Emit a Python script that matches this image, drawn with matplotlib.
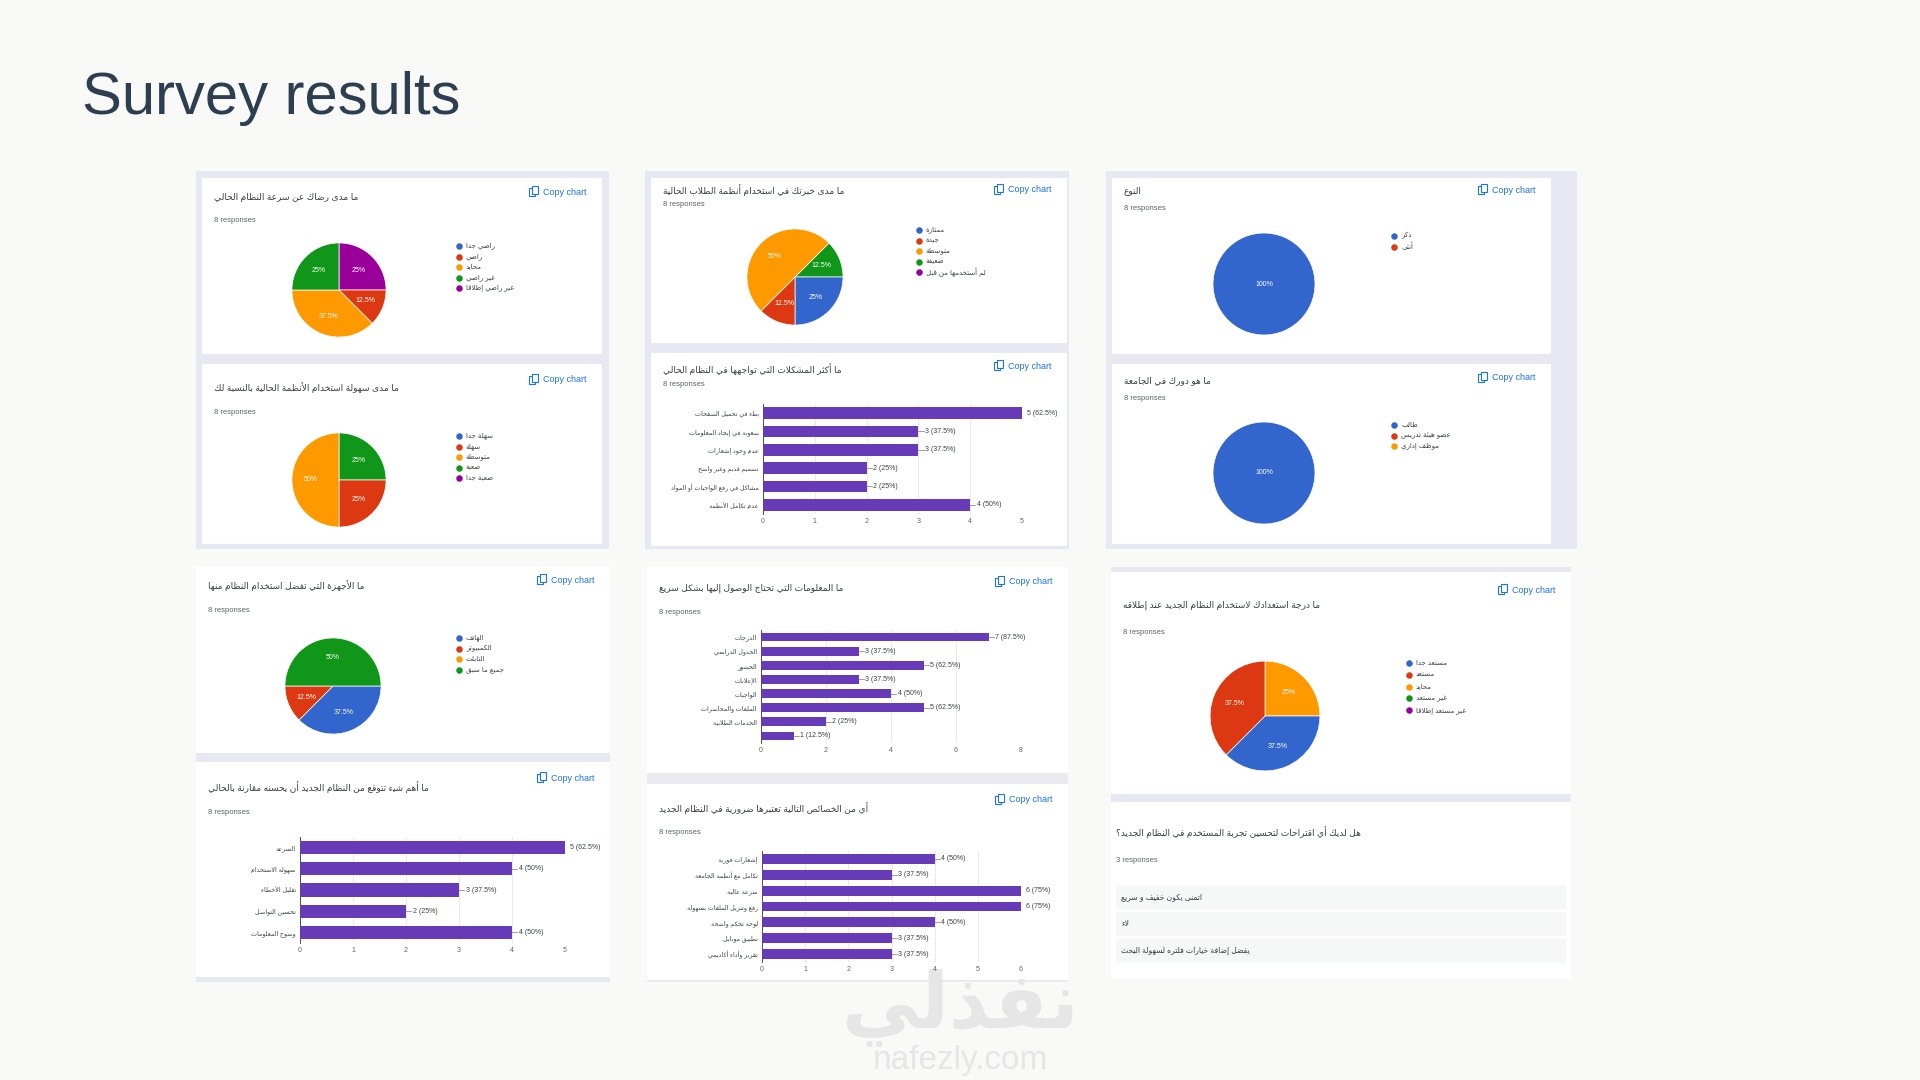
import matplotlib.pyplot as plt
from matplotlib.patches import Rectangle

plt.rcParams["font.family"] = ["Liberation Sans", "DejaVu Sans"]

# ----------------------------
# Data
# ----------------------------

PIE_COLORS = ["#3366cc", "#dc3912", "#ff9900", "#109618", "#990099"]
BAR_COLOR = "#673ab7"

speed_title = "ما مدى رضاك عن سرعة النظام الحالي"
speed_labels = ["راضي جداً", "راضي", "محايد", "غير راضي", "غير راضي إطلاقاً"]
speed_counts = [0, 1, 3, 2, 2]
speed_order = [4, 1, 2, 3]

ease_title = "ما مدى سهولة استخدام الأنظمة الحالية بالنسبة لك"
ease_labels = ["سهلة جداً", "سهلة", "متوسطة", "صعبة", "صعبة جداً"]
ease_counts = [0, 2, 4, 2, 0]
ease_order = [3, 1, 2]

exp_title = "ما مدى خبرتك في استخدام أنظمة الطلاب الحالية"
exp_labels = ["ممتازة", "جيدة", "متوسطة", "ضعيفة", "لم أستخدمها من قبل"]
exp_counts = [2, 1, 4, 1, 0]
exp_order = [3, 0, 1, 2]

gender_title = "النوع"
gender_labels = ["ذكر", "أنثى"]
gender_counts = [8, 0]

role_title = "ما هو دورك في الجامعة"
role_labels = ["طالب", "عضو هيئة تدريس", "موظف إداري"]
role_counts = [8, 0, 0]

device_title = "ما الأجهزة التي تفضل استخدام النظام منها"
device_labels = ["الهاتف", "الكمبيوتر", "التابلت", "جميع ما سبق"]
device_counts = [3, 1, 0, 4]
device_order = [0, 1, 3]

ready_title = "ما درجة استعدادك لاستخدام النظام الجديد عند إطلاقه"
ready_labels = ["مستعد جداً", "مستعد", "محايد", "غير مستعد", "غير مستعد إطلاقاً"]
ready_counts = [3, 3, 2, 0, 0]
ready_order = [2, 0, 1]

prob_title = "ما أكثر المشكلات التي تواجهها في النظام الحالي"
prob_cats = ["بطء في تحميل الصفحات", "صعوبة في إيجاد المعلومات", "عدم وجود إشعارات",
             "تصميم قديم وغير واضح", "مشاكل في رفع الواجبات أو المواد", "عدم تكامل الأنظمة"]
prob_counts = [5, 3, 3, 2, 2, 4]
prob_ticks = [0, 1, 2, 3, 4, 5]

info_title = "ما المعلومات التي تحتاج الوصول إليها بشكل سريع"
info_cats = ["الدرجات", "الجدول الدراسي", "الحضور", "الإعلانات", "الواجبات",
             "الملفات والمحاضرات", "الخدمات الطلابية", ""]
info_counts = [7, 3, 5, 3, 4, 5, 2, 1]
info_ticks = [0, 2, 4, 6, 8]

expect_title = "ما أهم شيء تتوقع من النظام الجديد أن يحسنه مقارنة بالحالي"
expect_cats = ["السرعة", "سهولة الاستخدام", "تقليل الأخطاء", "تحسين التواصل", "وضوح المعلومات"]
expect_counts = [5, 4, 3, 2, 4]
expect_ticks = [0, 1, 2, 3, 4, 5]

feat_title = "أي من الخصائص التالية تعتبرها ضرورية في النظام الجديد"
feat_cats = ["إشعارات فورية", "تكامل مع أنظمة الجامعة", "سرعة عالية", "رفع وتنزيل الملفات بسهولة",
             "لوحة تحكم واضحة", "تطبيق موبايل", "تقرير وأداء أكاديمي"]
feat_counts = [4, 3, 6, 6, 4, 3, 3]
feat_ticks = [0, 1, 2, 3, 4, 5, 6]

sugg_title = "هل لديك أي اقتراحات لتحسين تجربة المستخدم في النظام الجديد؟"
sugg_answers = ["اتمنى يكون خفيف و سريع", "لاء", "يفضل إضافة خيارات فلتره لسهولة البحث"]

N_RESP = 8

# ----------------------------
# Minimal Arabic shaping (presentation forms + visual order)
# ----------------------------

FORMS = {
    0x621: (0xFE80, 1), 0x622: (0xFE81, 2), 0x623: (0xFE83, 2), 0x624: (0xFE85, 2),
    0x625: (0xFE87, 2), 0x626: (0xFE89, 4), 0x627: (0xFE8D, 2), 0x628: (0xFE8F, 4),
    0x629: (0xFE93, 2), 0x62A: (0xFE95, 4), 0x62B: (0xFE99, 4), 0x62C: (0xFE9D, 4),
    0x62D: (0xFEA1, 4), 0x62E: (0xFEA5, 4), 0x62F: (0xFEA9, 2), 0x630: (0xFEAB, 2),
    0x631: (0xFEAD, 2), 0x632: (0xFEAF, 2), 0x633: (0xFEB1, 4), 0x634: (0xFEB5, 4),
    0x635: (0xFEB9, 4), 0x636: (0xFEBD, 4), 0x637: (0xFEC1, 4), 0x638: (0xFEC5, 4),
    0x639: (0xFEC9, 4), 0x63A: (0xFECD, 4), 0x641: (0xFED1, 4), 0x642: (0xFED5, 4),
    0x643: (0xFED9, 4), 0x644: (0xFEDD, 4), 0x645: (0xFEE1, 4), 0x646: (0xFEE5, 4),
    0x647: (0xFEE9, 4), 0x648: (0xFEED, 2), 0x649: (0xFEEF, 2), 0x64A: (0xFEF1, 4),
}
LAM_ALEF = {0x622: 0xFEF5, 0x623: 0xFEF7, 0x625: 0xFEF9, 0x627: 0xFEFB}


def ar(s):
    chars = [c for c in s if not (0x64B <= ord(c) <= 0x652)]
    merged = []
    i = 0
    while i < len(chars):
        c = chars[i]
        if ord(c) == 0x644 and i + 1 < len(chars) and ord(chars[i + 1]) in LAM_ALEF:
            merged.append(("LA", ord(chars[i + 1])))
            i += 2
        else:
            merged.append(("C", c))
            i += 1

    def dual(item):
        return item is not None and item[0] == "C" and ord(item[1]) in FORMS and FORMS[ord(item[1])][1] == 4

    def letter(item):
        return item is not None and (item[0] == "LA" or ord(item[1]) in FORMS)

    out = []
    for k, item in enumerate(merged):
        prev = merged[k - 1] if k > 0 else None
        nxt = merged[k + 1] if k + 1 < len(merged) else None
        jp = dual(prev)
        if item[0] == "LA":
            out.append(chr(LAM_ALEF[item[1]] + (1 if jp else 0)))
            continue
        c = item[1]
        if ord(c) not in FORMS:
            out.append(c)
            continue
        base, n = FORMS[ord(c)]
        jn = n == 4 and letter(nxt)
        if n == 1:
            off = 0
        elif jp and jn:
            off = 3
        elif jn:
            off = 2
        elif jp:
            off = 1
        else:
            off = 0
        out.append(chr(base + off))
    return "".join(out[::-1])


# ----------------------------
# Figure helpers
# ----------------------------

W, H = 1920, 1080
fig = plt.figure(figsize=(19.2, 10.8), dpi=100)
fig.patch.set_facecolor("#f9f9f8")
bg = fig.add_axes([0, 0, 1, 1])
bg.set_xlim(0, W)
bg.set_ylim(H, 0)
bg.axis("off")

TXT = "#3c4043"
GRAY = "#5f6368"
BLUE = "#1a73e8"
LAV = "#e8e8f3"


def px_axes(x0, y0, x1, y1):
    return fig.add_axes([x0 / W, 1 - y1 / H, (x1 - x0) / W, (y1 - y0) / H])


def rect(x0, y0, x1, y1, color):
    bg.add_patch(Rectangle((x0, y0), x1 - x0, y1 - y0, color=color, lw=0))


def card(x0, y0, x1, y1, title, resp=N_RESP, title_dy=20, resp_dy=42, copy=True, copy_dx=55):
    rect(x0, y0, x1, y1, "white")
    bg.text(x0 + 12, y0 + title_dy, ar(title), fontsize=6.5, color=TXT, va="center", ha="left")
    bg.text(x0 + 12, y0 + resp_dy, f"{resp} responses", fontsize=5.5, color=GRAY, va="center")
    if copy:
        cx = x1 - copy_dx
        cy = y0 + 12 + (title_dy - 12) * 0.3
        bg.add_patch(Rectangle((cx - 18, cy - 4), 6, 8, fill=False, ec=BLUE, lw=0.8))
        bg.add_patch(Rectangle((cx - 15, cy - 6), 6, 8, fc="white", ec=BLUE, lw=0.8))
        bg.text(cx - 4, cy, "Copy chart", fontsize=6.5, color=BLUE, va="center")


def legend(x, y, labels, step=10.5):
    for i, lab in enumerate(labels):
        bg.scatter([x], [y + i * step], s=22, color=PIE_COLORS[i], lw=0, zorder=3)
        bg.text(x + 7, y + i * step, ar(lab), fontsize=5, color=TXT, va="center", ha="left")


def pie(cx, cy, r, counts, order, start):
    ax = px_axes(cx - r, cy - r, cx + r, cy + r)
    vals = [counts[i] for i in order]
    cols = [PIE_COLORS[i] for i in order]
    ax.pie(vals, colors=cols, startangle=start, counterclock=False, radius=1,
           wedgeprops=dict(edgecolor="white", linewidth=0.5),
           autopct=lambda p: f"{p:g}%", pctdistance=0.6 if len(vals) > 1 else 0,
           textprops=dict(color="white", fontsize=5))
    ax.set_xlim(-1.02, 1.02)
    ax.set_ylim(-1.02, 1.02)
    ax.set_aspect("equal")


def barchart(x0, y0, x1, y1, cats, counts, ticks):
    ax = px_axes(x0, y0, x1, y1)
    ypos = list(range(len(cats)))
    ax.barh(ypos, counts, height=0.62, color=BAR_COLOR, zorder=3)
    ax.set_ylim(len(cats) - 0.5, -0.5)
    ax.set_xlim(0, ticks[-1])
    ax.set_xticks(ticks)
    ax.set_xticklabels([str(t) for t in ticks], fontsize=5, color=GRAY)
    ax.set_yticks(ypos)
    ax.set_yticklabels([ar(c) for c in cats], fontsize=4.6, color=TXT)
    ax.tick_params(length=0, pad=3)
    ax.grid(axis="x", color="#e6e6e6", lw=0.6, zorder=0)
    for s in ["top", "right", "bottom"]:
        ax.spines[s].set_visible(False)
    ax.spines["left"].set_color("#333333")
    ax.spines["left"].set_linewidth(0.6)
    span = ticks[-1]
    for yv, v in zip(ypos, counts):
        lab = f"{v} ({v / N_RESP * 100:g}%)"
        if v == span:
            ax.text(v + span * 0.02, yv, lab, fontsize=5, color=TXT, va="center")
        else:
            ax.plot([v, v + span * 0.02], [yv, yv], color="#777777", lw=0.5, zorder=4)
            ax.text(v + span * 0.025, yv, lab, fontsize=5, color=TXT, va="center")
    ax.set_facecolor("white")


# ----------------------------
# Title
# ----------------------------

bg.text(82, 98, "Survey results", fontsize=43, color="#2c3e50", va="center", ha="left")

# ----------------------------
# Top row
# ----------------------------

rect(196, 171, 609, 549, LAV)
card(202, 178, 602, 354, speed_title)
pie(339, 290, 48, speed_counts, speed_order, 90)
legend(459, 246, speed_labels)
card(202, 364, 602, 544, ease_title, title_dy=24, resp_dy=48)
pie(339, 480, 48, ease_counts, ease_order, 90)
legend(459, 436, ease_labels)

rect(645, 171, 1069, 549, LAV)
card(651, 178, 1067, 343, exp_title, title_dy=12, resp_dy=27)
pie(795, 277, 49, exp_counts, exp_order, 45)
legend(919, 230, exp_labels)
card(651, 353, 1067, 546, prob_title, title_dy=16, resp_dy=31)
barchart(763, 404, 1022, 514, prob_cats, prob_counts, prob_ticks)

rect(1106, 171, 1577, 549, LAV)
card(1112, 178, 1551, 354, gender_title, title_dy=13, resp_dy=30)
pie(1264, 284, 52, gender_counts, [0], 90)
legend(1394, 236, gender_labels)
card(1112, 364, 1551, 544, role_title, title_dy=17, resp_dy=34)
pie(1264, 473, 52, role_counts, [0], 90)
legend(1394, 425, role_labels)

# ----------------------------
# Bottom row
# ----------------------------

rect(196, 566, 610, 982, LAV)
card(196, 566, 610, 753, device_title, title_dy=20, resp_dy=44)
pie(333, 686, 49, device_counts, device_order, 0)
legend(459, 638, device_labels)
card(196, 762, 610, 977, expect_title, title_dy=26, resp_dy=50)
barchart(300, 837, 565, 943, expect_cats, expect_counts, expect_ticks)

rect(647, 567, 1068, 982, "#eceaf1")
card(647, 567, 1068, 773, info_title, title_dy=21, resp_dy=45)
barchart(761, 630, 1021, 743, info_cats, info_counts, info_ticks)
card(647, 784, 1068, 980, feat_title, title_dy=24, resp_dy=49)
barchart(762, 851, 1021, 962, feat_cats, feat_counts, feat_ticks)

rect(1111, 567, 1571, 979, LAV)
card(1111, 572, 1571, 794, ready_title, title_dy=33, resp_dy=60)
pie(1265, 716, 56, ready_counts, ready_order, 90)
legend(1409, 663, ready_labels, step=11.8)
rect(1111, 802, 1571, 979, "white")
bg.text(1116, 832, ar(sugg_title), fontsize=6.5, color=TXT, va="center")
bg.text(1116, 860, f"{len(sugg_answers)} responses", fontsize=5.5, color=GRAY, va="center")
for i, ans in enumerate(sugg_answers):
    y = 885 + i * 27
    rect(1116, y, 1566, y + 24, "#f6f7f7")
    bg.text(1121, y + 12, ar(ans), fontsize=5.5, color=TXT, va="center")

# ----------------------------
# Watermark
# ----------------------------

bg.text(960, 1008, ar("نفذلي"), fontsize=56, color="#e6e6e6", ha="center", va="center",
        fontweight="bold", zorder=10)
bg.text(960, 1060, "nafezly.com", fontsize=24, color="#e6e6e6", ha="center", va="center", zorder=10)

fig.savefig("out.png", dpi=100, facecolor=fig.get_facecolor())
